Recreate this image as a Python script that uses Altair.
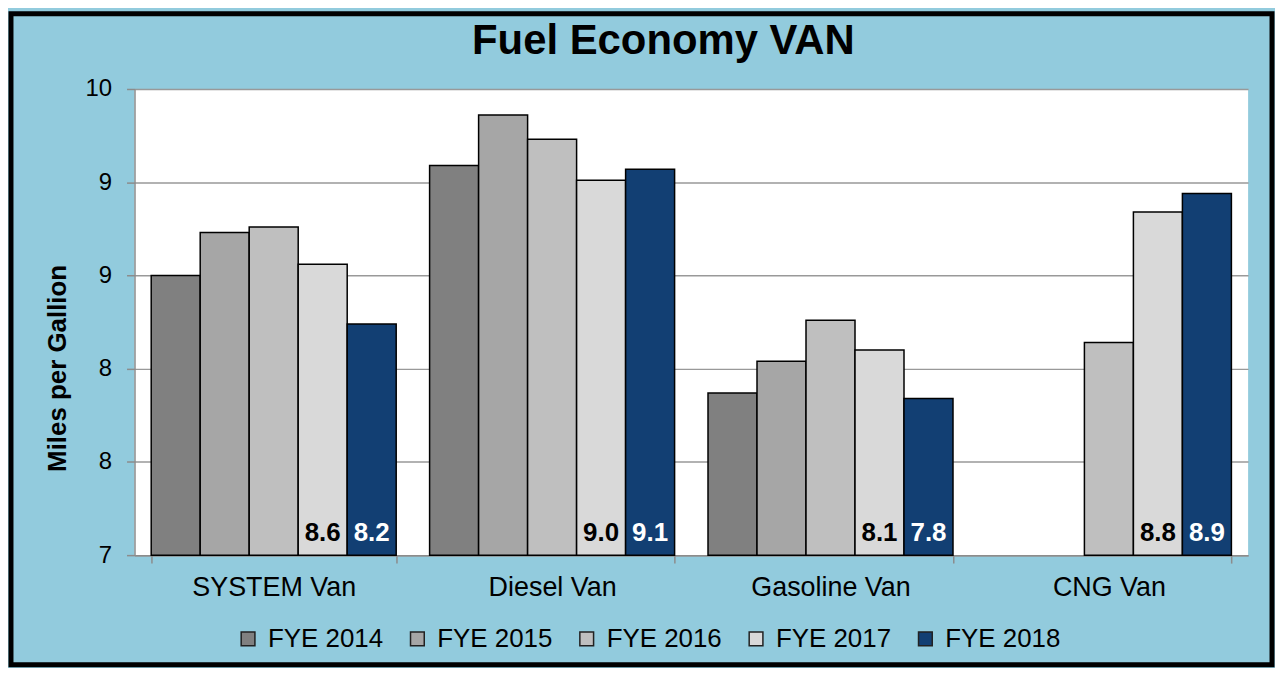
import altair as alt
import pandas as pd

FONT = "Liberation Sans, Arial, Helvetica, sans-serif"

categories = ["SYSTEM Van", "Diesel Van", "Gasoline Van", "CNG Van"]
years = ["FYE 2014", "FYE 2015", "FYE 2016", "FYE 2017", "FYE 2018"]
system_van = [8.50, 8.73, 8.76, 8.56, 8.24]
diesel_van = [9.09, 9.36, 9.23, 9.01, 9.07]
gasoline_van = [7.87, 8.04, 8.26, 8.10, 7.84]
cng_van = [None, None, 8.14, 8.84, 8.94]
colors = ["#808080", "#a6a6a6", "#bfbfbf", "#d9d9d9", "#123f73"]
labelled_years = ["FYE 2017", "FYE 2018"]
axis_floor = 7.0

series = [system_van, diesel_van, gasoline_van, cng_van]
rows = []
for cat, vals in zip(categories, series):
    for yr, v in zip(years, vals):
        if v is not None:
            rows.append({"category": cat, "year": yr, "mpg": v, "base": axis_floor})
df = pd.DataFrame(rows)

Y_TITLE = "Miles per Gallion"

x_enc = alt.X(
    "category:N",
    sort=categories,
    scale=alt.Scale(domain=categories, paddingInner=0.12, paddingOuter=0.06),
    axis=alt.Axis(
        title=None, labelAngle=0, labelFontSize=27, labelColor="black",
        labelFont=FONT, labelPadding=12, tickSize=8, tickColor="#8c8c8c",
        tickWidth=1.5, domainColor="#8c8c8c", domainWidth=1.5,
        tickBand="extent", grid=False,
    ),
)
xoff_enc = alt.XOffset("year:N", sort=years,
                       scale=alt.Scale(domain=years, paddingInner=0, paddingOuter=0))
y_scale = alt.Scale(domain=[7, 9.5], nice=False, zero=False)
y_axis = alt.Axis(
    values=[7, 7.5, 8, 8.5, 9, 9.5], format=".0f",
    labelFontSize=24, labelColor="black", labelFont=FONT, labelPadding=15,
    tickSize=8, tickColor="#8c8c8c", tickWidth=1.5,
    domainColor="#8c8c8c", domainWidth=1.5,
    grid=True, gridColor="#999999", gridWidth=1.5,
    titleFontSize=26, titleFont=FONT, titleFontWeight="bold", titleColor="black",
    titleAngle=-90, titleX=-77, titleY=280, titleAlign="center", titleBaseline="middle",
)

bars = alt.Chart(df).mark_bar(stroke="black", strokeWidth=1.5).encode(
    x=x_enc,
    xOffset=xoff_enc,
    y=alt.Y("mpg:Q", title=Y_TITLE, scale=y_scale, axis=y_axis),
    y2=alt.Y2("base:Q"),
    color=alt.Color(
        "year:N",
        scale=alt.Scale(domain=years, range=colors),
        legend=alt.Legend(
            title=None, orient="none", legendX=101, legendY=539,
            direction="horizontal", symbolType="square", symbolSize=190,
            symbolStrokeColor="#222222", symbolStrokeWidth=1.5,
            labelFontSize=26, labelFont=FONT, labelColor="black",
            labelOffset=7, columnPadding=21,
        ),
    ),
)

labels = alt.Chart(df).transform_filter(
    alt.FieldOneOfPredicate(field="year", oneOf=labelled_years)
).mark_text(
    fontSize=26, fontWeight="bold", font=FONT, baseline="alphabetic", dy=-14
).encode(
    x=x_enc,
    xOffset=xoff_enc,
    y=alt.Y("base:Q", title=Y_TITLE, scale=y_scale),
    text=alt.Text("mpg:Q", format=".1f"),
    color=alt.condition(alt.datum.year == "FYE 2018", alt.value("white"), alt.value("black")),
)

frame = alt.Chart(pd.DataFrame({"k": [0]})).mark_rect(
    fill="transparent", stroke="black", strokeWidth=5
).encode(
    x=alt.value(-124), x2=alt.value(1142), y=alt.value(-75.5), y2=alt.value(578)
)

chart = alt.layer(bars, labels, frame).properties(
    width=1118,
    height=468,
    background="#92cbdd",
    padding={"left": 127, "top": 80, "right": 27, "bottom": 112},
    autosize=alt.AutoSizeParams(type="none"),
    title=alt.TitleParams(
        "Fuel Economy VAN", fontSize=42, font=FONT, fontWeight="bold",
        color="black", anchor="middle", frame="group", dx=-28, dy=40,
        baseline="alphabetic", offset=-45,
    ),
).configure_view(fill="white", stroke=None)

chart.save("out.html", embed_options={"renderer": "svg", "actions": False})
